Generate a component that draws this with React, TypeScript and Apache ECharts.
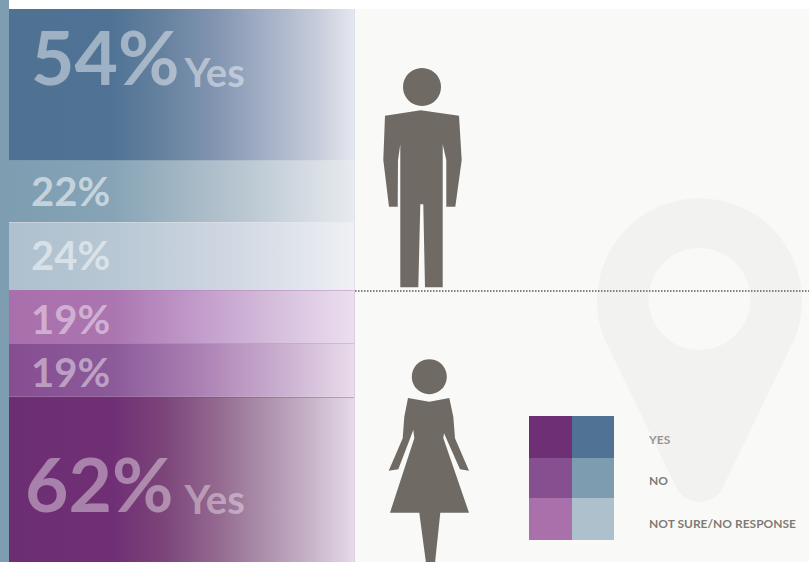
import React, { useEffect, useRef } from "react";
import * as echarts from "echarts";

// Survey shares, top to bottom: men above the divider, women below it.
const menValues = [54, 22, 24];
const womenValues = [19, 19, 62];
const menTags = ["Yes", "", ""];
const womenTags = ["", "", "Yes"];
const legendLabels = ["YES", "NO", "NOT SURE/NO RESPONSE"];
const womenSwatches = ["#6f2f74", "#864f90", "#a970ac"];
const menSwatches = ["#507395", "#7d9cb0", "#afc0cd"];

const INK = "#6f6a64";
const PANEL = "#f9f9f7";
const PIN = "#f2f2f0";

const rampMen = [
  [[0, "#4f7293"], [0.3, "#507395"], [0.45, "#67829f"], [0.6, "#8295b1"], [0.72, "#9eabc2"], [0.88, "#c3c9d8"], [1, "#e4e7ee"]],
  [[0, "#7f9db1"], [0.3, "#86a4b6"], [0.5, "#a2b6c3"], [0.7, "#bcc9d3"], [1, "#e8ebef"]],
  [[0, "#aec0ce"], [0.3, "#b7c7d4"], [0.6, "#cdd5e0"], [0.85, "#e1e5ec"], [1, "#eff1f4"]],
];
const rampWomen = [
  [[0, "#a96fac"], [0.3, "#ab75b0"], [0.55, "#c29ccb"], [0.8, "#d8c2de"], [1, "#ebdfef"]],
  [[0, "#864e91"], [0.3, "#8b5a99"], [0.55, "#ab80b3"], [0.8, "#cbb1d1"], [1, "#e9dcea"]],
  [[0, "#6c2e72"], [0.3, "#702f75"], [0.45, "#7c4579"], [0.6, "#93688f"], [0.72, "#a88aa7"], [0.88, "#c9b5ca"], [1, "#e6d9e8"]],
];

echarts.graphic.registerShape(
  "locationPin",
  echarts.graphic.extendPath("M604 338 A102.5 102.5 0 1 1 795 338 L723 487 A26 26 0 0 1 676 487 Z", {})
);
echarts.graphic.registerShape(
  "manFigure",
  echarts.graphic.extendPath(
    "M385 115.7 L420.7 110.3 L459 115.7 L461.7 160 L455.3 206.7 L446.3 206.7 L446.3 160 L442.7 144.3 L442.7 287.3 L425 287.3 L423.3 204.3 L420.3 204.3 L418.3 287.3 L400.3 287.3 L400.3 144.3 L398 160 L397.7 206.7 L389 206.7 L383.3 160 Z",
    {}
  )
);
echarts.graphic.registerShape(
  "womanFigure",
  echarts.graphic.extendPath(
    "M408 398 L429.3 401.7 L449.3 398 L453.3 416.7 L455 438.3 L469 470.7 L460 469.3 L444 433.3 L443.3 438 L469 512.7 L440.3 512.7 L435 563 L426 563 L419.3 512.7 L390 512.7 L414.3 438.3 L413.3 430 L398.3 469.3 L388.7 470.7 L402.7 438.3 L404.3 416.7 Z",
    {}
  )
);

const gradient = (stops: any[]) =>
  new echarts.graphic.LinearGradient(
    0,
    0,
    1,
    0,
    stops.map(([offset, color]) => ({ offset, color }))
  );

function stackSeries(
  name: string,
  value: number,
  stackedEnd: number,
  tag: string,
  ramp: any[],
  seam: string,
  labelAt: number[],
  alpha: number,
  tagGap: number
) {
  const ink = `rgba(255,255,255,${alpha})`;
  return {
    name,
    type: "bar",
    stack: "all",
    barWidth: "100%",
    silent: true,
    data: [value],
    itemStyle: { color: gradient(ramp) },
    label: {
      show: true,
      position: labelAt,
      formatter: tag ? `{big|${value}%}{tag|${tag}}` : `{small|${value}%}`,
      rich: {
        big: { fontFamily: "Lato", fontSize: 75, lineHeight: 78, fontWeight: 700, color: ink },
        small: { fontFamily: "Lato", fontSize: 40, fontWeight: 700, color: ink },
        tag: {
          fontFamily: "Lato",
          fontSize: 40,
          lineHeight: 40,
          fontWeight: 700,
          color: ink,
          verticalAlign: "bottom",
          padding: [0, 0, 3, tagGap],
        },
      },
    },
    // Hairline along the lower edge of each band.
    markLine: {
      silent: true,
      symbol: "none",
      label: { show: false },
      lineStyle: { type: "solid", width: 1, color: seam },
      data: [{ yAxis: stackedEnd }],
    },
  };
}

export default function App() {
  const ref = useRef<HTMLDivElement>(null);

  useEffect(() => {
    const chart = echarts.init(ref.current!, undefined, { renderer: "svg" });
    const labelPositions = [
      [22, 8],
      [22, 10],
      [22, 12],
      [22, 9],
      [22, 9],
      [16, 47],
    ];
    const alphas = [0.45, 0.55, 0.5, 0.45, 0.45, 0.4];
    const tagGaps = [5, 0, 0, 0, 0, 11];
    const seams = [
      "rgba(255,255,255,0)",
      "rgba(225,228,236,0.35)",
      "rgba(170,120,180,0.4)",
      "rgba(120,80,130,0.25)",
      "rgba(110,60,120,0.35)",
      "rgba(255,255,255,0)",
    ];
    const values = [...menValues, ...womenValues];
    const tags = [...menTags, ...womenTags];
    const ramps = [...rampMen, ...rampWomen];
    let running = 0;
    const ends = values.map((v) => (running += v));

    const legendRows = legendLabels.flatMap((label, i) => {
      const tops = [416, 458, 498, 540];
      const y = tops[i];
      const h = tops[i + 1] - y;
      return [
        { type: "rect", shape: { x: 529, y, width: 43, height: h }, style: { fill: womenSwatches[i] } },
        { type: "rect", shape: { x: 572, y, width: 42, height: h }, style: { fill: menSwatches[i] } },
        {
          type: "text",
          x: 649,
          y: [439, 480, 523][i],
          style: {
            text: label,
            fontFamily: "Lato",
            fontSize: 12,
            fontWeight: 700,
            fill: INK,
            opacity: i === 0 ? 0.7 : 0.9,
            textVerticalAlign: "middle",
          },
        },
      ];
    });

    chart.setOption({
      animation: false,
      backgroundColor: "#ffffff",
      grid: { left: 9, top: 9, width: 345, height: 562, outerBoundsMode: "none" },
      xAxis: { type: "category", data: ["share"], show: false },
      yAxis: { type: "value", inverse: true, min: 0, max: 200, show: false },
      series: values.map((v, i) =>
        stackSeries(`band${i}`, v, ends[i], tags[i], ramps[i], seams[i], labelPositions[i], alphas[i], tagGaps[i])
      ),
      graphic: [
        { type: "rect", shape: { x: 0, y: 0, width: 9, height: 562 }, style: { fill: "#7f9db1" } },
        { type: "rect", shape: { x: 354, y: 9, width: 455, height: 553 }, style: { fill: PANEL } },
        {
          type: "line",
          shape: { x1: 354.5, y1: 9, x2: 354.5, y2: 290 },
          style: { stroke: "#dfe2ea", lineWidth: 1 },
        },
        {
          type: "line",
          shape: { x1: 354.5, y1: 290, x2: 354.5, y2: 562 },
          style: { stroke: "#dcccdd", lineWidth: 1 },
        },
        { type: "locationPin", style: { fill: PIN } },
        { type: "circle", shape: { cx: 699.5, cy: 299, r: 51 }, style: { fill: PANEL } },
        {
          type: "line",
          shape: { x1: 355, y1: 291, x2: 809, y2: 291 },
          style: { stroke: "#85817c", lineWidth: 2, lineDash: [1.5, 1.5] },
        },
        { type: "circle", shape: { cx: 422, cy: 87, r: 19 }, style: { fill: INK } },
        { type: "manFigure", style: { fill: INK } },
        { type: "circle", shape: { cx: 429.3, cy: 376.7, r: 17.5 }, style: { fill: INK } },
        { type: "womanFigure", style: { fill: INK } },
        ...legendRows,
      ],
    });
    return () => chart.dispose();
  }, []);

  return <div ref={ref} style={{ position: "absolute", left: 0, top: 0, width: 809, height: 562, overflow: "hidden" }} />;
}
